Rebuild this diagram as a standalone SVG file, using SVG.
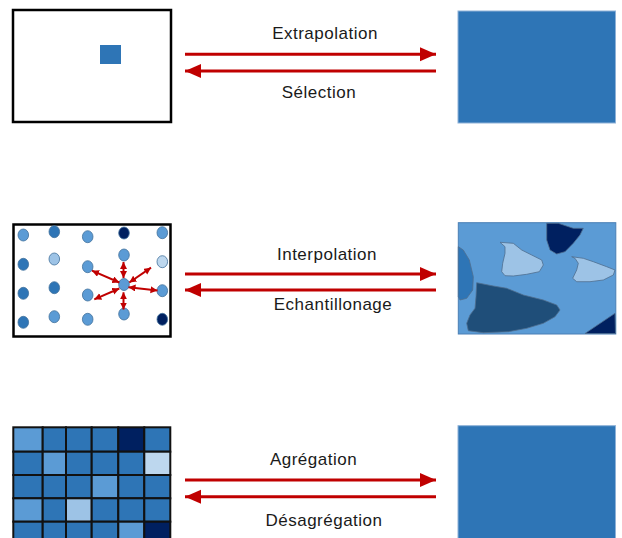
<svg xmlns="http://www.w3.org/2000/svg" width="622" height="538" viewBox="0 0 622 538">
<defs>
<marker id="ah" markerUnits="userSpaceOnUse" markerWidth="17" markerHeight="15" refX="16" refY="7" orient="auto-start-reverse"><path d="M0,0 L16,7 L0,14 z" fill="#c00000"/></marker>
<marker id="sah" markerUnits="userSpaceOnUse" markerWidth="8" markerHeight="8" refX="7" refY="3.5" orient="auto-start-reverse"><path d="M0,0 L7,3.5 L0,7 z" fill="#c00000"/></marker>
<style>
.lbl{font-family:"Liberation Sans",Arial,sans-serif;font-size:17px;fill:#1a1a1a;text-anchor:middle;letter-spacing:0.5px}
.frame{fill:#fff;stroke:#000;stroke-width:2.5}
.big{stroke:#c00000;stroke-width:3;fill:none}
.sm{stroke:#c00000;stroke-width:2;fill:none;marker-start:url(#sah);marker-end:url(#sah)}
.dot{stroke:#41719c;stroke-width:0.8}
.c1{fill:#5b9bd5}.c2{fill:#2e75b6}.c3{fill:#002060}.c4{fill:#9dc3e6}.c5{fill:#bdd7ee}.c6{fill:#1f4e79}
.cell{stroke:#111;stroke-width:2}
.blob{stroke:#4f6f8f;stroke-width:0.8}
.solid{fill:#2e75b6;stroke:#8eb2d8;stroke-width:1}
</style>
</defs>

<g id="selection-source">
<rect class="frame" x="13" y="10" width="158" height="112"/>
<rect x="100" y="45" width="21" height="19" fill="#2e75b6"/>
</g>

<g id="extrapolation-target">
<rect class="solid" x="458" y="11" width="157.5" height="112"/>
</g>

<g id="points">
<rect class="frame" x="13.5" y="224.5" width="157" height="112"/>
<ellipse class="dot c1" cx="23.3" cy="235" rx="5.3" ry="6"/>
<ellipse class="dot c2" cx="54.3" cy="231.7" rx="5.3" ry="6"/>
<ellipse class="dot c1" cx="87.7" cy="236.7" rx="5.3" ry="6"/>
<ellipse class="dot c3" cx="124" cy="233" rx="5.3" ry="6"/>
<ellipse class="dot c1" cx="162.3" cy="232.7" rx="5.3" ry="6"/>
<ellipse class="dot c2" cx="23.3" cy="264.3" rx="5.3" ry="6"/>
<ellipse class="dot c4" cx="54.3" cy="259" rx="5.3" ry="6"/>
<ellipse class="dot c1" cx="87.7" cy="266.7" rx="5.3" ry="6"/>
<ellipse class="dot c1" cx="124" cy="255" rx="5.3" ry="6"/>
<ellipse class="dot c5" cx="162.3" cy="261.7" rx="5.3" ry="6"/>
<ellipse class="dot c2" cx="23.3" cy="293.3" rx="5.3" ry="6"/>
<ellipse class="dot c2" cx="54.3" cy="287.7" rx="5.3" ry="6"/>
<ellipse class="dot c1" cx="87.7" cy="295" rx="5.3" ry="6"/>
<ellipse class="dot c1" cx="124" cy="284.5" rx="5.3" ry="6"/>
<ellipse class="dot c1" cx="162.3" cy="290.7" rx="5.3" ry="6"/>
<ellipse class="dot c2" cx="23.3" cy="322.3" rx="5.3" ry="6"/>
<ellipse class="dot c1" cx="54.3" cy="316.7" rx="5.3" ry="6"/>
<ellipse class="dot c1" cx="87.7" cy="319.3" rx="5.3" ry="6"/>
<ellipse class="dot c1" cx="124" cy="314" rx="5.3" ry="6"/>
<ellipse class="dot c3" cx="162.3" cy="319.3" rx="5.3" ry="6"/>
<g id="neighbour-arrows">
<line class="sm" x1="123.5" y1="262" x2="123.5" y2="278"/>
<line class="sm" x1="92" y1="270.7" x2="119.3" y2="282.5"/>
<line class="sm" x1="151" y1="267.7" x2="129.3" y2="282.5"/>
<line class="sm" x1="128.5" y1="287.3" x2="157.5" y2="290.5"/>
<line class="sm" x1="123.5" y1="292.3" x2="123.5" y2="309.5"/>
<line class="sm" x1="94.3" y1="299.3" x2="119.3" y2="288.5"/>
</g>
</g>

<g id="surface">
<rect x="458.3" y="222.7" width="157.5" height="111.3" fill="#5b9bd5" stroke="#4a7fb5" stroke-width="1"/>
<path class="blob c2" d="M458.3,246.7 L463.3,250 L469.3,260 L473.3,276.7 L472.7,290 L466.7,298.3 L460,300 L458.3,296.7 Z"/>
<path class="blob c4" d="M500,242.3 L513.3,243.3 L521.7,250 L531.7,255 L541.7,260 L543.3,265 L539.3,271.7 L526.7,274.3 L513.3,276 L505,275.7 L501.7,271.7 L502.7,263.3 L505,253.3 L505,246.7 Z"/>
<path class="blob c3" d="M546.7,223.3 L558.3,223.3 L573.3,228.3 L583.3,228.3 L580,235 L573.3,243.3 L565,251.7 L556.7,254 L550,250 L546.7,240 L546.7,228.3 Z"/>
<path class="blob c4" d="M571.7,256.7 L583.3,258.3 L593.3,261.7 L606.7,266.7 L615,270 L613.3,275 L603.3,280 L590,281.7 L576.7,281.7 L572.7,278.3 L576.7,270 L578.3,263.3 L575,258.3 Z"/>
<path class="blob c6" d="M476.7,282.7 L493.3,286 L506.7,288.3 L523.3,295 L543.3,300 L556.7,305 L560,310 L555,316.7 L543.3,323.3 L526.7,328.3 L508.3,331.7 L483.3,332.7 L468.3,330.7 L466.7,323.3 L470,315 L475,308.3 L476,296.7 Z"/>
<path class="blob c3" d="M585,333.5 L615,313.3 L615.5,333.5 Z"/>
</g>

<g id="grid">
<rect class="cell c1" x="13.3" y="427.3" width="29.4" height="24.4"/>
<rect class="cell c2" x="42.7" y="427.3" width="23.3" height="24.4"/>
<rect class="cell c2" x="66" y="427.3" width="25.7" height="24.4"/>
<rect class="cell c2" x="91.7" y="427.3" width="26.6" height="24.4"/>
<rect class="cell c3" x="118.3" y="427.3" width="26" height="24.4"/>
<rect class="cell c2" x="144.3" y="427.3" width="26" height="24.4"/>
<rect class="cell c2" x="13.3" y="451.7" width="29.4" height="23.3"/>
<rect class="cell c1" x="42.7" y="451.7" width="23.3" height="23.3"/>
<rect class="cell c2" x="66" y="451.7" width="25.7" height="23.3"/>
<rect class="cell c2" x="91.7" y="451.7" width="26.6" height="23.3"/>
<rect class="cell c2" x="118.3" y="451.7" width="26" height="23.3"/>
<rect class="cell c5" x="144.3" y="451.7" width="26" height="23.3"/>
<rect class="cell c2" x="13.3" y="475" width="29.4" height="23.3"/>
<rect class="cell c2" x="42.7" y="475" width="23.3" height="23.3"/>
<rect class="cell c2" x="66" y="475" width="25.7" height="23.3"/>
<rect class="cell c1" x="91.7" y="475" width="26.6" height="23.3"/>
<rect class="cell c2" x="118.3" y="475" width="26" height="23.3"/>
<rect class="cell c2" x="144.3" y="475" width="26" height="23.3"/>
<rect class="cell c1" x="13.3" y="498.3" width="29.4" height="23.4"/>
<rect class="cell c2" x="42.7" y="498.3" width="23.3" height="23.4"/>
<rect class="cell c4" x="66" y="498.3" width="25.7" height="23.4"/>
<rect class="cell c2" x="91.7" y="498.3" width="26.6" height="23.4"/>
<rect class="cell c2" x="118.3" y="498.3" width="26" height="23.4"/>
<rect class="cell c2" x="144.3" y="498.3" width="26" height="23.4"/>
<rect class="cell c2" x="13.3" y="521.7" width="29.4" height="23.3"/>
<rect class="cell c2" x="42.7" y="521.7" width="23.3" height="23.3"/>
<rect class="cell c2" x="66" y="521.7" width="25.7" height="23.3"/>
<rect class="cell c2" x="91.7" y="521.7" width="26.6" height="23.3"/>
<rect class="cell c1" x="118.3" y="521.7" width="26" height="23.3"/>
<rect class="cell c3" x="144.3" y="521.7" width="26" height="23.3"/>
</g>

<g id="aggregation-target">
<rect class="solid" x="458" y="425.7" width="157.5" height="120"/>
</g>

<g id="connectors">
<line class="big" x1="185" y1="54.3" x2="436" y2="54.3" marker-end="url(#ah)"/>
<line class="big" x1="436" y1="71" x2="185" y2="71" marker-end="url(#ah)"/>
<line class="big" x1="185" y1="274" x2="436" y2="274" marker-end="url(#ah)"/>
<line class="big" x1="436" y1="290" x2="185" y2="290" marker-end="url(#ah)"/>
<line class="big" x1="185" y1="480" x2="436" y2="480" marker-end="url(#ah)"/>
<line class="big" x1="436" y1="496.7" x2="185" y2="496.7" marker-end="url(#ah)"/>
</g>

<g id="labels">
<text class="lbl" x="325" y="39">Extrapolation</text>
<text class="lbl" x="319" y="98">Sélection</text>
<text class="lbl" x="327" y="260">Interpolation</text>
<text class="lbl" x="333" y="310">Echantillonage</text>
<text class="lbl" x="313.5" y="465">Agrégation</text>
<text class="lbl" x="324" y="526">Désagrégation</text>
</g>
</svg>
